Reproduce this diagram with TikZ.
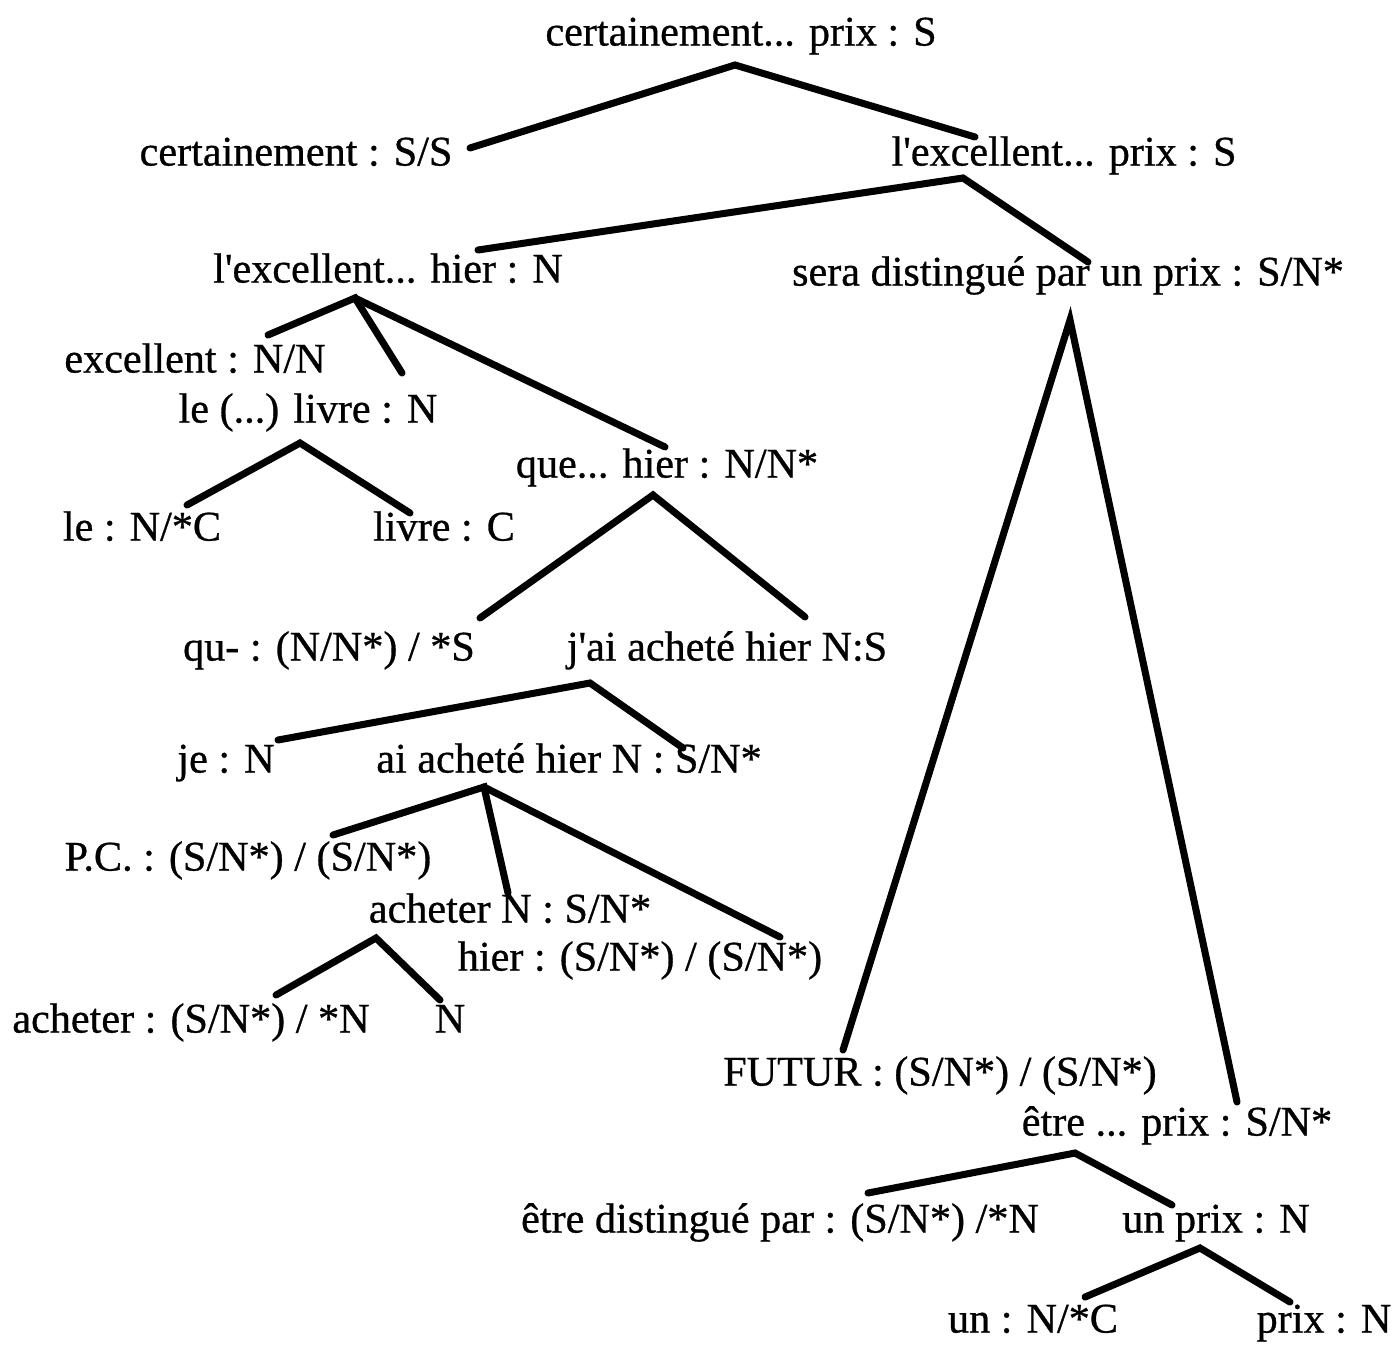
\documentclass[tikz,border=0pt]{standalone}
\usepackage{fontspec}
\setmainfont{Liberation Serif}[BoldFont=Liberation Serif, BoldFeatures={FakeBold=0.7}]
\usetikzlibrary{calc}
\tikzset{
  lbl/.style={inner sep=0pt, font=\fontsize{12}{14}\selectfont\bfseries, text height=8pt, text depth=2pt},
  branch/.style={line width=2pt, line cap=round}
}
\begin{document}
\begin{tikzpicture}[x=1cm, y=1cm]
  \useasboundingbox (0,0) rectangle (13.95,-13.48);

  % Les étiquettes de l'arbre
  \node[lbl] (root) at (7.41,-0.35) {certainement... prix : S};
  \node[lbl] (cert) at (2.96,-1.55) {certainement : S/S};
  \node[lbl] (lexp) at (10.64,-1.55) {l\textquotesingle excellent... prix : S};
  \node[lbl] (lexh) at (3.88,-2.72) {l\textquotesingle excellent... hier : N};
  \node[lbl] (sera) at (10.68,-2.75) {sera distingué par un prix : S/N*};
  \node[lbl] (exc) at (1.95,-3.62) {excellent : N/N};
  \node[lbl] (lelivre) at (3.08,-4.12) {le (...) livre : N};
  \node[lbl] (que) at (6.67,-4.67) {que... hier : N/N*};
  \node[lbl] (le) at (1.42,-5.30) {le : N/*C};
  \node[lbl] (livre) at (4.44,-5.30) {livre : C};
  \node[lbl] (qu) at (3.29,-6.50) {qu- : (N/N*) / *S};
  \node[lbl] (jai) at (7.27,-6.50) {j\textquotesingle ai acheté hier N:S};
  \node[lbl] (je) at (2.26,-7.62) {je : N};
  \node[lbl] (ai) at (5.69,-7.62) {ai acheté hier N : S/N*};
  \node[lbl] (pc) at (2.48,-8.60) {P.C. : (S/N*) / (S/N*)};
  \node[lbl] (achN) at (5.10,-9.12) {acheter N : S/N*};
  \node[lbl] (hier) at (6.40,-9.60) {hier : (S/N*) / (S/N*)};
  \node[lbl] (ach) at (1.91,-10.22) {acheter : (S/N*) / *N};
  \node[lbl] (n) at (4.50,-10.22) {N};
  \node[lbl] (futur) at (9.40,-10.75) {FUTUR : (S/N*) / (S/N*)};
  \node[lbl] (etre) at (11.77,-11.25) {être ... prix : S/N*};
  \node[lbl] (etredist) at (7.80,-12.22) {être distingué par : (S/N*) /*N};
  \node[lbl] (unprix) at (12.16,-12.22) {un prix : N};
  \node[lbl] (un) at (10.33,-13.22) {un : N/*C};
  \node[lbl] (prix) at (13.24,-13.22) {prix : N};

  % Les branches
  \draw[branch] ($(cert)+(1.74,0.07)$) -- ($(root)+(-0.06,-0.30)$) -- ($(lexp)+(-0.89,0.18)$);
  \draw[branch] ($(lexh)+(0.90,0.22)$) -- ($(lexp)+(-1.01,-0.23)$) -- ($(sera)+(0.20,0.13)$);
  \draw[branch] ($(exc)+(0.73,0.27)$) -- ($(lexh)+(-0.33,-0.26)$) -- ($(lelivre)+(0.94,0.39)$);
  \draw[branch] ($(lexh)+(-0.33,-0.26)$) -- ($(que)+(-0.02,0.20)$);
  \draw[branch] ($(le)+(0.45,0.25)$) -- ($(lelivre)+(-0.08,-0.31)$) -- ($(livre)+(-0.34,0.17)$);
  \draw[branch] ($(qu)+(1.51,0.32)$) -- ($(que)+(-0.14,-0.28)$) -- ($(jai)+(0.78,0.33)$);
  \draw[branch] ($(je)+(0.52,0.22)$) -- ($(jai)+(-1.37,-0.33)$) -- ($(ai)+(1.14,0.14)$);
  \draw[branch] ($(pc)+(0.85,0.25)$) -- ($(ai)+(-0.85,-0.25)$) -- ($(achN)+(-0.02,0.19)$);
  \draw[branch] ($(ai)+(-0.85,-0.25)$) -- ($(hier)+(1.40,0.23)$);
  \draw[branch] ($(ach)+(0.85,0.27)$) -- ($(achN)+(-1.34,-0.26)$) -- ($(n)+(-0.10,0.22)$);
  \draw[branch] ($(futur)+(-0.97,0.25)$) -- ($(sera)+(0.02,-0.45)$) -- ($(etre)+(0.60,0.23)$);
  \draw[branch] ($(etredist)+(0.88,0.29)$) -- ($(etre)+(-1.02,-0.28)$) -- ($(unprix)+(-0.44,0.17)$);
  \draw[branch] ($(un)+(0.52,0.25)$) -- ($(unprix)+(-0.16,-0.26)$) -- ($(prix)+(-0.34,0.20)$);
\end{tikzpicture}
\end{document}
